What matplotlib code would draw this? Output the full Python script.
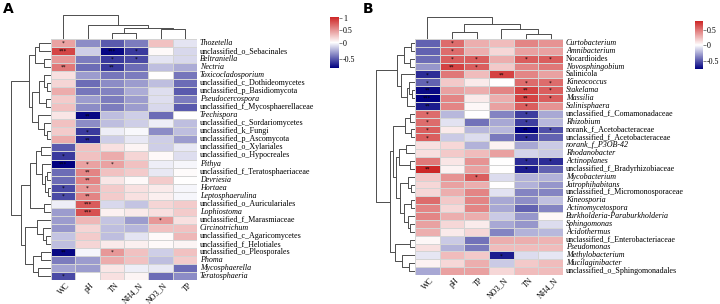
import matplotlib
matplotlib.use("Agg")
import matplotlib.pyplot as plt
import numpy as np
from matplotlib.colors import LinearSegmentedColormap, TwoSlopeNorm
from matplotlib.cm import ScalarMappable
from matplotlib.collections import LineCollection

# ---------------- data: panel A (fungi) ----------------
a_taxa = ["Thozetella", "unclassified_o_Sebacinales", "Beltraniella", "Nectria",
          "Toxicocladosporium", "unclassified_c_Dothideomycetes", "unclassified_p_Basidiomycota",
          "Pseudocercospora", "unclassified_f_Mycosphaerellaceae", "Trechispora",
          "unclassified_c_Sordariomycetes", "unclassified_k_Fungi", "unclassified_p_Ascomycota",
          "unclassified_o_Xylariales", "unclassified_o_Hypocreales", "Pithya",
          "unclassified_f_Teratosphaeriaceae", "Devriesia", "Hortaea", "Leptosphaerulina",
          "unclassified_o_Auriculariales", "Lophiostoma", "unclassified_f_Marasmiaceae",
          "Circinotrichum", "unclassified_c_Agaricomycetes", "unclassified_f_Helotiales",
          "unclassified_o_Pleosporales", "Phoma", "Mycosphaerella", "Teratosphaeria"]
a_upright = [t for t in a_taxa if t.startswith("unclassified")]
a_cols = ["WC", "pH", "TN", "NH4_N", "NO3_N", "TP"]
a_WC = [0.45, 0.9, 0.5, 0.65, 0.15, 0.2, 0.4, 0.25, 0.3, 0.12, 0.3, 0.25, 0.4, -0.5, -0.6,
        -0.78, -0.45, -0.45, -0.55, -0.55, -0.05, -0.3, -0.3, -0.32, -0.18, -0.2, -0.75, -0.4, -0.28, -0.55]
a_pH = [-0.35, -0.15, -0.4, -0.45, -0.3, -0.45, -0.42, -0.3, -0.35, -0.75, -0.35, -0.6, -0.65, 0.3, 0.3,
        0.45, 0.6, 0.6, 0.5, 0.6, 0.8, 0.85, 0.35, 0.2, 0.25, 0.2, -0.03, -0.3, -0.3, 0.0]
a_TN = [-0.5, -0.75, -0.6, -0.6, -0.42, -0.35, -0.38, -0.4, -0.4, -0.2, -0.2, -0.05, -0.15, 0.15, 0.4,
        0.45, 0.3, 0.12, 0.25, 0.25, -0.12, 0.07, -0.18, -0.2, -0.2, 0.1, 0.5, 0.4, 0.12, 0.15]
a_NH4 = [-0.4, -0.6, -0.55, -0.45, -0.4, -0.3, -0.25, -0.3, -0.3, -0.15, -0.15, -0.02, -0.07, 0.05, 0.2,
         0.3, 0.25, 0.03, 0.15, 0.15, -0.18, 0.1, -0.3, -0.22, -0.08, 0.08, 0.3, 0.3, -0.05, 0.05]
a_NO3 = [0.3, 0.03, -0.08, -0.2, 0.0, -0.2, -0.1, -0.1, -0.12, -0.45, -0.05, -0.35, -0.15, -0.15, 0.03,
         -0.05, -0.07, 0.25, 0.1, 0.08, 0.2, 0.15, 0.5, 0.3, 0.03, 0.03, -0.15, -0.2, -0.07, -0.45]
a_TP = [-0.08, -0.12, -0.12, -0.25, -0.42, -0.45, -0.5, -0.4, -0.5, 0.0, -0.2, -0.2, -0.3, -0.07, -0.1,
        -0.03, 0.02, 0.0, -0.03, -0.03, 0.25, 0.25, 0.15, 0.3, 0.35, 0.05, 0.3, 0.25, -0.45, -0.35]
a_stars = [(0, "WC", "*"), (1, "WC", "***"), (1, "TN", "***"), (1, "NH4_N", "*"),
           (2, "TN", "*"), (2, "NH4_N", "*"), (3, "WC", "**"), (3, "TN", "**"),
           (9, "pH", "**"), (11, "pH", "*"), (12, "pH", "**"), (14, "WC", "*"),
           (15, "WC", "***"), (15, "pH", "*"), (15, "TN", "*"), (16, "pH", "**"),
           (17, "pH", "**"), (18, "WC", "*"), (18, "pH", "*"), (19, "WC", "*"), (19, "pH", "**"),
           (20, "pH", "***"), (21, "pH", "***"), (22, "NO3_N", "*"), (26, "WC", "**"),
           (26, "TN", "*"), (29, "WC", "*")]
# dendrograms: [height, left, right], leaves = row/column positions
a_row_tree = [40,
              [22, [16, [12, 0, 1], [7, 2, 3]],
                   [19, [12, [7, 4, [4, 5, 6]], [5, 7, 8]],
                        [13, 9, [7, 10, [4, 11, 12]]]]],
              [30, [21, [15, [10, 13, 14], [9, 15, [6, [4, 16, 17], [3, 18, 19]]]], [7, 20, 21]],
                   [26, [14, 22, [8, 23, [5, 24, 25]]], [18, [10, 26, 27], [13, 28, 29]]]]]
a_col_tree = [24, 0, [14, 1, [11, [6, 2, 3], [10, 4, 5]]]]
a_vlim = (-0.78, 1.06)
a_ticks = [-0.5, 0, 0.5, 1]

# ---------------- data: panel B (bacteria) ----------------
b_taxa = ["Curtobacterium", "Amnibacterium", "Nocardioides", "Novosphingobium", "Salinicola",
          "Kineococcus", "Stakelama", "Massilia", "Salinisphaera", "unclassified_f_Comamonadaceae",
          "Rhizobium", "norank_f_Acetobacteraceae", "unclassified_f_Acetobacteraceae",
          "norank_f_P3OB-42", "Rhodanobacter", "Actinoplanes", "unclassified_f_Bradyrhizobiaceae",
          "Mycobacterium", "Jatrophihabitans", "unclassified_f_Micromonosporaceae", "Kineosporia",
          "Actinomycetospora", "Burkholderia-Paraburkholderia", "Sphingomonas", "Acidothermus",
          "unclassified_f_Enterobacteriaceae", "Pseudomonas", "Methylobacterium",
          "Mucilaginibacter", "unclassified_o_Sphingomonadales"]
b_upright = ["Nocardioides", "Salinicola", "unclassified_f_Comamonadaceae",
             "norank_f_Acetobacteraceae", "unclassified_f_Acetobacteraceae",
             "unclassified_f_Bradyrhizobiaceae", "unclassified_f_Micromonosporaceae",
             "unclassified_f_Enterobacteriaceae", "unclassified_o_Sphingomonadales"]
b_cols = ["WC", "pH", "TP", "NO3_N", "TN", "NH4_N"]
b_WC = [-0.45, -0.45, -0.42, -0.3, -0.6, -0.45, -0.7, -0.75, -0.65, 0.55, 0.55, 0.6, 0.6, 0.12, 0.12,
        0.5, 0.8, 0.2, 0.15, 0.15, 0.55, 0.45, 0.45, 0.35, 0.3, 0.03, 0.12, -0.07, 0.05, -0.25]
b_pH = [0.55, 0.55, 0.6, 0.7, 0.5, 0.2, 0.35, 0.45, 0.45, -0.2, -0.08, 0.08, -0.15, 0.15, 0.2,
        0.1, 0.05, 0.4, 0.35, 0.3, 0.2, 0.15, 0.3, 0.15, 0.08, -0.15, -0.22, 0.25, 0.15, 0.35]
b_TP = [0.3, 0.3, 0.6, 0.6, 0.25, 0.08, 0.3, 0.08, 0.03, 0.0, -0.4, -0.2, -0.1, -0.22, 0.25,
        0.4, 0.35, 0.6, 0.3, 0.45, 0.45, 0.45, 0.3, 0.07, 0.15, -0.4, -0.38, 0.2, 0.3, 0.35]
b_NO3 = [0.25, 0.15, 0.3, 0.2, 0.7, 0.0, 0.45, 0.3, 0.35, -0.35, -0.25, -0.2, -0.38, 0.05, 0.35,
         0.0, 0.0, -0.1, 0.0, -0.08, -0.25, -0.25, -0.15, -0.25, -0.35, 0.3, 0.25, -0.65, -0.15, 0.15]
b_TN = [0.45, 0.35, 0.6, 0.45, 0.45, 0.55, 0.7, 0.7, 0.6, -0.55, -0.55, -0.75, -0.6, -0.25, -0.12,
        -0.6, -0.65, -0.22, -0.22, -0.35, -0.32, -0.45, -0.3, -0.3, -0.22, 0.3, 0.25, -0.1, 0.2, 0.25]
b_NH4 = [0.4, 0.35, 0.6, 0.5, 0.35, 0.55, 0.6, 0.6, 0.4, -0.25, -0.2, -0.5, -0.45, -0.15, -0.15,
         -0.6, -0.45, -0.22, -0.3, -0.35, -0.18, -0.35, 0.03, -0.1, -0.2, 0.28, 0.25, -0.07, 0.25, 0.25]
b_stars = [(0, "pH", "*"), (1, "pH", "*"), (2, "pH", "*"), (2, "TP", "*"), (2, "TN", "*"),
           (2, "NH4_N", "*"), (3, "pH", "**"), (3, "TP", "*"), (4, "WC", "*"), (4, "NO3_N", "**"),
           (5, "WC", "*"), (5, "TN", "*"), (5, "NH4_N", "*"), (6, "WC", "**"), (6, "TN", "**"),
           (6, "NH4_N", "*"), (7, "WC", "***"), (7, "TN", "**"), (7, "NH4_N", "*"),
           (8, "WC", "**"), (8, "TN", "*"), (9, "WC", "*"), (9, "TN", "*"), (10, "WC", "*"),
           (10, "TN", "*"), (11, "WC", "*"), (11, "TN", "**"), (11, "NH4_N", "*"),
           (12, "WC", "*"), (12, "TN", "*"), (15, "TN", "*"), (15, "NH4_N", "*"),
           (16, "WC", "**"), (16, "TN", "*"), (17, "TP", "*"), (27, "NO3_N", "*")]
b_row_tree = [39,
              [18, [11, [4, 0, 1], [5, 2, 3]], [14, 4, [8, [6, 5, [3, 6, 7]], 8]]],
              [25, [22, [10, [5, 9, 10], [4, 11, 12]],
                        [19, [16, [9, 13, 14], [5, 15, 16]],
                             [15, [7, 17, [4, 18, 19]], [11, [4, 20, 21], [7, 22, [5, 23, 24]]]]]],
                   [20, [5, 25, 26], [13, 27, [6, 28, 29]]]]]
b_col_tree = [22, 0, [15, [7, 1, 2], [10, 3, [5, 4, 5]]]]
b_vlim = (-0.73, 0.81)
b_ticks = [-0.5, 0, 0.5]

# ---------------- drawing ----------------
W, H = 720, 304
fig = plt.figure(figsize=(W / 100, H / 100), dpi=100)
cmap = LinearSegmentedColormap.from_list("nwf", ["#000080", "#ffffff", "#CD2626"])
SERIF = "Liberation Serif"
LINE = "#4d4d4d"
FS = 5.8


def rect(x0, y0, x1, y1):
    return [x0 / W, 1 - y1 / H, (x1 - x0) / W, (y1 - y0) / H]


def tree_segments(node, orient, segs):
    if not isinstance(node, list):
        return node + 0.5, 0
    h, left, right = node
    pl, hl = tree_segments(left, orient, segs)
    pr, hr = tree_segments(right, orient, segs)
    if orient == "row":
        segs.append([(hl, pl), (h, pl), (h, pr), (hr, pr)])
    else:
        segs.append([(pl, hl), (pl, h), (pr, h), (pr, hr)])
    return (pl + pr) / 2, h


def panel(letter, lx, taxa, upright, cols, data, stars, row_tree, col_tree, vlim, ticks,
          hm, rd_x0, cd_y0, cb):
    x0, y0, x1, y1 = hm
    mat = np.array(data).T
    nr, nc = mat.shape
    norm = TwoSlopeNorm(vmin=vlim[0], vcenter=0, vmax=vlim[1])
    ax = fig.add_axes(rect(x0, y0, x1, y1))
    ax.pcolormesh(np.arange(nc + 1), np.arange(nr + 1), mat, cmap=cmap, norm=norm,
                  edgecolors="#d4d4d4", linewidth=0.5)
    ax.set_xlim(0, nc)
    ax.set_ylim(nr, 0)
    for s in ax.spines.values():
        s.set_visible(False)
    ax.set_xticks([])
    ax.set_yticks([])
    for r, c, m in stars:
        ax.text(cols.index(c) + 0.5, r + 0.55, m, ha="center", va="center", fontsize=4,
                color="black")
    for i, t in enumerate(taxa):
        ax.text(nc + 0.12, i + 0.5, t, ha="left", va="center", fontsize=FS, family=SERIF,
                style="normal" if t in upright else "italic", clip_on=False)
    for j, c in enumerate(cols):
        ax.text(j + 0.62, nr + 0.15, c, ha="right", va="top", rotation=45, rotation_mode="anchor",
                fontsize=FS, family=SERIF, clip_on=False)
    # row dendrogram
    rax = fig.add_axes(rect(rd_x0, y0, x0, y1))
    segs = []
    tree_segments(row_tree, "row", segs)
    rax.add_collection(LineCollection(segs, colors=LINE, linewidths=0.7))
    rax.set_xlim(x0 - rd_x0, 0)
    rax.set_ylim(nr, 0)
    rax.axis("off")
    # column dendrogram
    dax = fig.add_axes(rect(x0, cd_y0, x1, y0))
    segs = []
    tree_segments(col_tree, "col", segs)
    dax.add_collection(LineCollection(segs, colors=LINE, linewidths=0.7))
    dax.set_xlim(0, nc)
    dax.set_ylim(0, y0 - cd_y0)
    dax.axis("off")
    # colorbar
    cbax = fig.add_axes(rect(*cb))
    sm = ScalarMappable(norm=norm, cmap=cmap)
    cbar = fig.colorbar(sm, cax=cbax, ticks=ticks)
    cbar.outline.set_visible(False)
    cbar.ax.tick_params(length=2, width=0.5, pad=1, labelsize=FS, color="#555555")
    cbar.ax.set_yticklabels([f"{t:g}" for t in ticks], family=SERIF)
    fig.text(lx / W, 1 - 2 / H, letter, fontsize=10, fontweight="bold", va="top", ha="left",
             family="DejaVu Sans")


panel("A", 3, a_taxa, a_upright, a_cols, [a_WC, a_pH, a_TN, a_NH4, a_NO3, a_TP], a_stars,
      a_row_tree, a_col_tree, a_vlim, a_ticks, (51, 39, 197, 280), 6, 10, (330, 17, 339, 68))
panel("B", 363, b_taxa, b_upright, b_cols, [b_WC, b_pH, b_TP, b_NO3, b_TN, b_NH4], b_stars,
      b_row_tree, b_col_tree, b_vlim, b_ticks, (415, 39, 563, 275), 372, 12, (695, 21, 703, 69))

fig.savefig("out.png", dpi=100)
